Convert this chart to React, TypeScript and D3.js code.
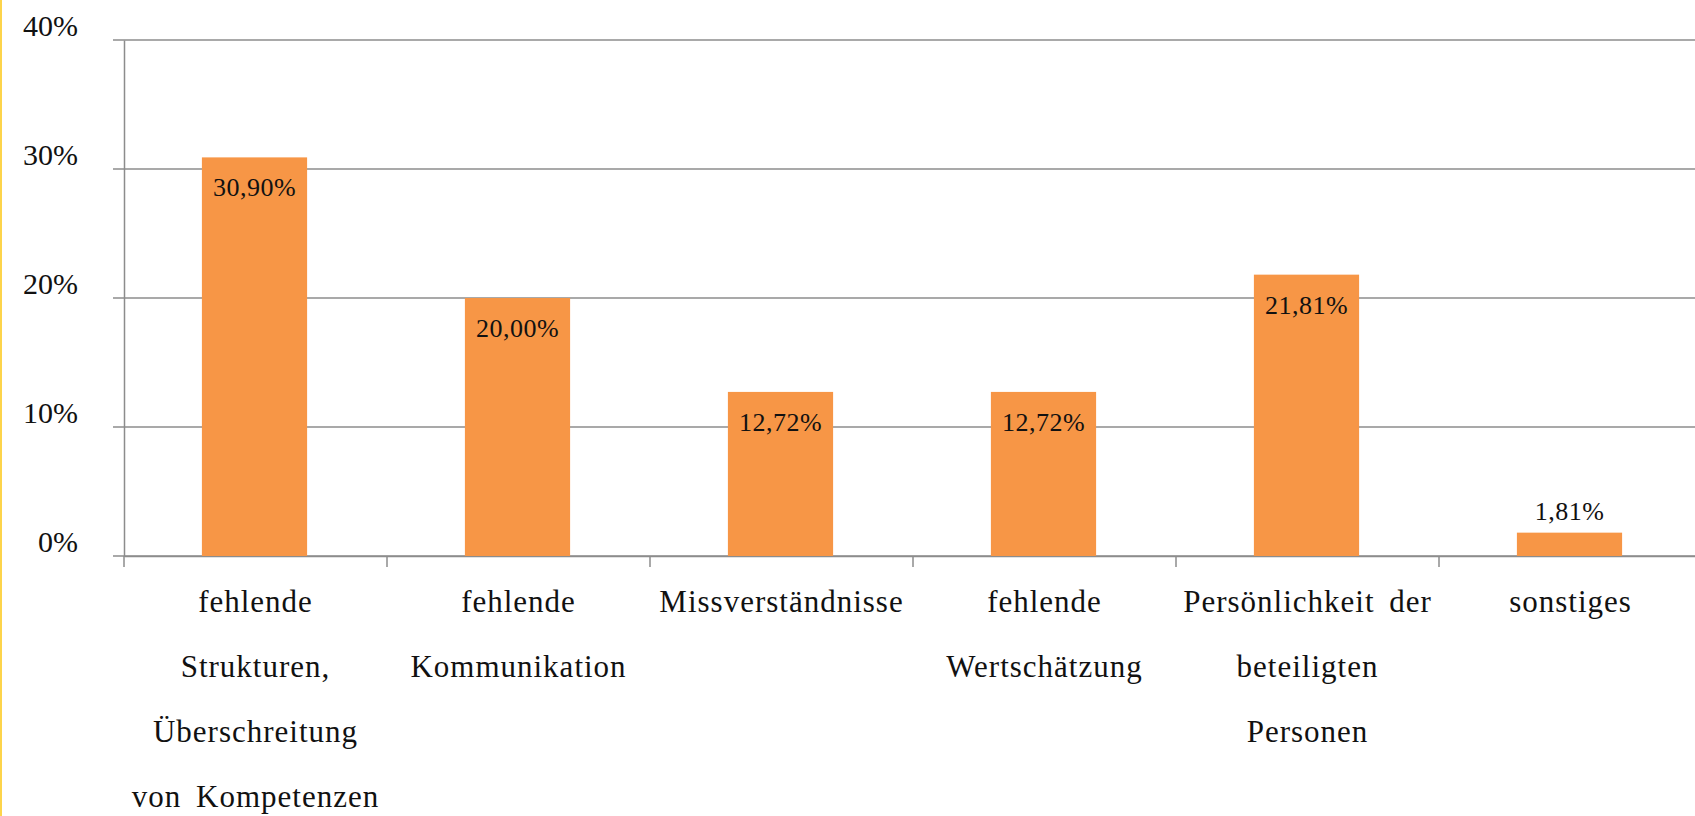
import React, { useEffect, useRef } from "react";
import { select, scaleBand, scaleLinear, axisLeft, axisBottom } from "d3";

const categories = ["s1", "s2", "s3", "s4", "s5", "s6"];
const categoryLines = [
  ["fehlende", "Strukturen,", "Überschreitung", "von Kompetenzen"],
  ["fehlende", "Kommunikation"],
  ["Missverständnisse"],
  ["fehlende", "Wertschätzung"],
  ["Persönlichkeit der", "beteiligten", "Personen"],
  ["sonstiges"],
];
const values = [30.9, 20.0, 12.72, 12.72, 21.81, 1.81];
const yTicks = [0, 10, 20, 30, 40];

const W = 1695;
const H = 816;
const FONT = "'Liberation Serif', 'DejaVu Serif', serif";

const App = () => {
  const svgRef = useRef(null);

  useEffect(() => {
    const svg = select(svgRef.current);
    svg.selectAll("*").remove();

    const x = scaleBand().domain(categories).range([124, 1702]);
    const y = scaleLinear().domain([0, 40]).range([556, 40]);

    // yellow edge on the left
    svg.append("rect").attr("x", 0).attr("y", 0).attr("width", 2).attr("height", H).attr("fill", "#fdd44b");

    // gridlines
    svg.append("g")
      .selectAll("line")
      .data(yTicks)
      .join("line")
      .attr("x1", 113)
      .attr("x2", W)
      .attr("y1", (d) => y(d))
      .attr("y2", (d) => y(d))
      .attr("stroke", "#8c8c8c")
      .attr("stroke-width", 1.5);

    // y axis line
    const yAxis = axisLeft(y).tickValues(yTicks).tickSize(0).tickFormat(() => "");
    const gy = svg.append("g").attr("transform", "translate(124,0)").call(yAxis);
    gy.select(".domain").attr("stroke", "#8c8c8c").attr("stroke-width", 1.5);

    // y tick labels
    svg.append("g")
      .selectAll("text")
      .data(yTicks)
      .join("text")
      .attr("x", 78)
      .attr("y", (d) => y(d) - 4)
      .attr("text-anchor", "end")
      .attr("font-family", FONT)
      .attr("font-size", 30)
      .attr("fill", "#111")
      .text((d) => `${d}%`);

    // x axis with boundary ticks
    const xAxis = axisBottom(x).tickSize(0).tickFormat(() => "");
    const gx = svg.append("g").attr("transform", `translate(0,${y(0)})`).call(xAxis);
    gx.select(".domain").attr("stroke", "#8c8c8c").attr("stroke-width", 1.5);
    const bounds = categories.map((c) => x(c)).concat([x.range()[1]]);
    svg.append("g")
      .selectAll("line")
      .data(bounds)
      .join("line")
      .attr("x1", (d) => d)
      .attr("x2", (d) => d)
      .attr("y1", y(0))
      .attr("y2", y(0) + 11)
      .attr("stroke", "#8c8c8c")
      .attr("stroke-width", 1.5);

    const bw = x.bandwidth() * 0.4;

    // bars
    svg.append("g")
      .selectAll("rect")
      .data(values)
      .join("rect")
      .attr("x", (d, i) => x(categories[i]) + x.bandwidth() / 2 - bw / 2 - 1)
      .attr("width", bw)
      .attr("y", (d) => y(d))
      .attr("height", (d) => y(0) - y(d))
      .attr("fill", "#f79646");

    // value labels
    svg.append("g")
      .selectAll("text")
      .data(values)
      .join("text")
      .attr("x", (d, i) => x(categories[i]) + x.bandwidth() / 2 - 1)
      .attr("y", (d) => (d < 5 ? y(d) - 13 : y(d) + 39))
      .attr("text-anchor", "middle")
      .attr("font-family", FONT)
      .attr("font-size", 26)
      .attr("letter-spacing", 0.5)
      .attr("fill", "#111")
      .text((d) => d.toFixed(2).replace(".", ",") + "%");

    // category labels
    const labels = svg.append("g")
      .selectAll("text")
      .data(categoryLines)
      .join("text")
      .attr("text-anchor", "middle")
      .attr("font-family", FONT)
      .attr("font-size", 31)
      .attr("letter-spacing", 1)
      .attr("word-spacing", 6)
      .attr("fill", "#111");

    labels.each(function (lines, i) {
      select(this)
        .selectAll("tspan")
        .data(lines)
        .join("tspan")
        .attr("x", x(categories[i]) + x.bandwidth() / 2)
        .attr("y", (d, j) => 612 + j * 65)
        .text((d) => d);
    });
  }, []);

  return (
    <svg
      ref={ svgRef }
      width={ W }
      height={ H }
      style={ {position: "absolute", left: 0, top: 0, background: "#fff"} }
    />
  );
};

export default App;
